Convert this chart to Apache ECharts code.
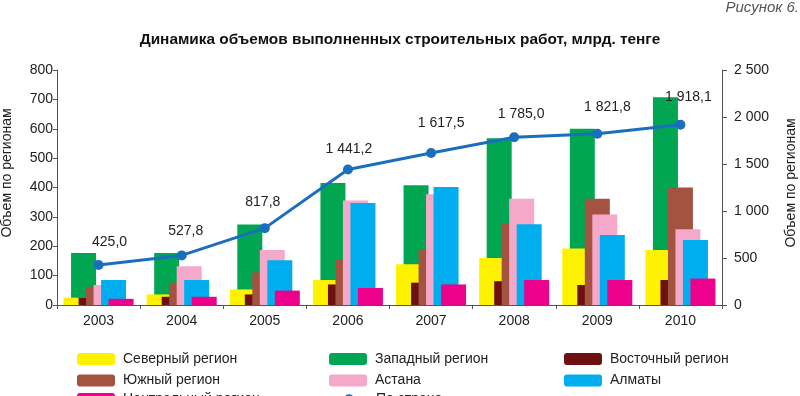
<!DOCTYPE html>
<html><head><meta charset="utf-8">
<script src="https://cdn.jsdelivr.net/npm/echarts@6/dist/echarts.min.js"></script>
<style>html,body{margin:0;padding:0;background:#fff;}#c{width:800px;height:396px;}</style>
</head><body><div id="c"></div>
<script>
const years = ['2003','2004','2005','2006','2007','2008','2009','2010'];
const north   = [25, 36, 53, 85, 139, 160, 192, 187];
const west    = [177, 177, 274, 415, 408, 568, 600, 707];
const east    = [25, 28, 36, 70, 76, 81, 68, 85];
const south   = [62, 76, 111, 156, 187, 279, 362, 400];
const astana  = [68, 132, 187, 356, 377, 362, 308, 258];
const almaty  = [85, 85, 152, 347, 402, 275, 238, 221];
const central = [21, 28, 49, 58, 70, 85, 85, 90];
const country = [425.0, 527.8, 817.8, 1441.2, 1617.5, 1785.0, 1821.8, 1918.1];
const leftTicks = {min: 0, max: 800, interval: 100};
const rightTicks = {min: 0, max: 2500, interval: 500};

const labelOffsets = [[11,-23],[4,-24],[-2,-26],[1,-20],[10,-30],[7,-23],[10,-27],[8,-28]];
const FONT = 'Liberation Sans, Arial, sans-serif';

function fmtNum(v, dec) {
  const s = Number(v).toFixed(dec);
  const parts = s.split('.');
  const intPart = parts[0].replace(/\B(?=(\d{3})+(?!\d))/g, ' ');
  return parts.length > 1 ? intPart + ',' + parts[1] : intPart;
}

const barDefs = [
  {name: 'Северный регион', data: north, color: '#FFF200', z: 2},
  {name: 'Западный регион', data: west, color: '#00A651', z: 1},
  {name: 'Восточный регион', data: east, color: '#6E0F10', z: 3},
  {name: 'Южный регион', data: south, color: '#A3533F', z: 4},
  {name: 'Астана', data: astana, color: '#F5A9CA', z: 5},
  {name: 'Алматы', data: almaty, color: '#00AEEF', z: 6},
  {name: 'Центральный регион', data: central, color: '#EC008C', z: 7}
];

const series = barDefs.map(d => ({
  type: 'bar', name: d.name, data: d.data, z: d.z,
  barWidth: 25, barGap: '-70%',
  itemStyle: {color: d.color},
  emphasis: {disabled: true}
}));
series.push({
  type: 'line', name: 'По стране', yAxisIndex: 1, z: 10,
  data: country.map((v, i) => ({value: v, label: {offset: labelOffsets[i]}})),
  symbol: 'circle', symbolSize: 10,
  lineStyle: {color: '#1B6EBE', width: 3},
  itemStyle: {color: '#1B6EBE'},
  label: {show: true, position: 'inside', color: '#222', fontSize: 14, fontFamily: FONT,
    formatter: p => fmtNum(p.value, 1)},
  emphasis: {disabled: true}
});

function legendAt(left, top, names) {
  return {
    left: left, top: top, orient: 'vertical', height: 200,
    itemWidth: 38, itemHeight: 12, itemGap: 7.5, padding: 0,
    textStyle: {fontSize: 14, lineHeight: 14, fontFamily: FONT, color: '#222', padding: [0,0,0,3]},
    selectedMode: false, data: names
  };
}

const chart = echarts.init(document.getElementById('c'), null, {renderer: 'canvas'});
chart.setOption({
  animation: false,
  backgroundColor: '#fff',
  grid: {left: 57, right: 78, top: 70, bottom: 91},
  title: [
    {text: 'Динамика объемов выполненных строительных работ, млрд. тенге', left: 'center', top: 27,
      textStyle: {fontSize: 15.4, fontWeight: 'bold', fontFamily: FONT, color: '#111'}},
    {text: 'Рисунок 6.', right: 1, top: 0, padding: 0,
      textStyle: {fontSize: 15, fontStyle: 'italic', fontWeight: 'normal', fontFamily: FONT, color: '#555'}}
  ],
  legend: [
    legendAt(77, 352, ['Северный регион', 'Южный регион']),
    legendAt(77, 392, ['Центральный регион']),
    legendAt(329, 352, ['Западный регион', 'Астана']),
    legendAt(329, 392, ['По стране']),
    legendAt(564, 352, ['Восточный регион', 'Алматы'])
  ],
  xAxis: {
    type: 'category', data: years,
    axisLine: {lineStyle: {color: '#555', width: 1}},
    axisTick: {show: true, length: 4, lineStyle: {color: '#555'}},
    axisLabel: {fontSize: 14, fontFamily: FONT, color: '#222', margin: 9}
  },
  yAxis: [
    {type: 'value', min: leftTicks.min, max: leftTicks.max, interval: leftTicks.interval,
      splitLine: {show: false},
      axisLine: {show: true, lineStyle: {color: '#555'}},
      axisTick: {show: true, length: 4, lineStyle: {color: '#555'}},
      axisLabel: {fontSize: 14, fontFamily: FONT, color: '#222', margin: 4}},
    {type: 'value', min: rightTicks.min, max: rightTicks.max, interval: rightTicks.interval,
      position: 'right', splitLine: {show: false},
      axisLine: {show: true, lineStyle: {color: '#555'}},
      axisTick: {show: true, length: 5, lineStyle: {color: '#555'}},
      axisLabel: {fontSize: 14, fontFamily: FONT, color: '#222', margin: 12,
        formatter: v => fmtNum(v, 0)}}
  ],
  graphic: [
    {type: 'text', x: 7, y: 173, rotation: Math.PI / 2,
      style: {text: 'Объем по регионам', font: '14px ' + FONT, fill: '#222', align: 'center', verticalAlign: 'middle'}},
    {type: 'text', x: 791, y: 183, rotation: Math.PI / 2,
      style: {text: 'Объем по регионам', font: '14px ' + FONT, fill: '#222', align: 'center', verticalAlign: 'middle'}}
  ],
  series: series
});
</script></body></html>
